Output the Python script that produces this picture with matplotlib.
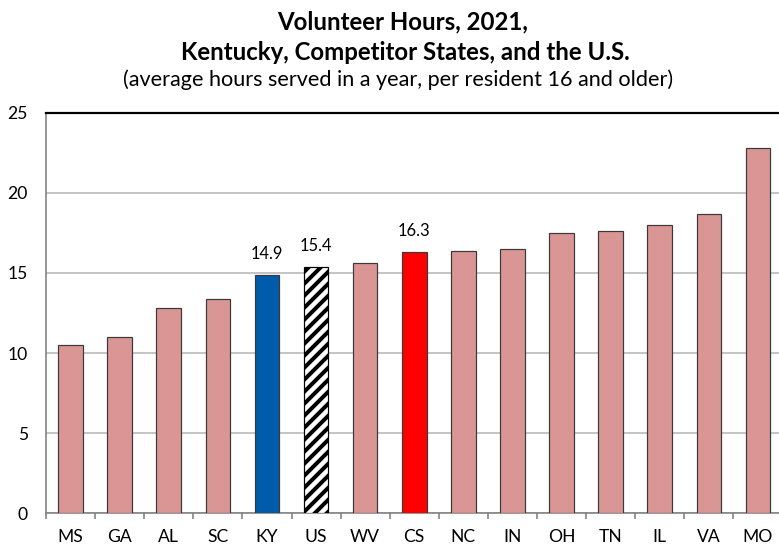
import matplotlib
matplotlib.use("Agg")
import matplotlib.pyplot as plt
import numpy as np

# values
states = ["MS", "GA", "AL", "SC", "KY", "US", "WV", "CS",
          "NC", "IN", "OH", "TN", "IL", "VA", "MO"]
hours = [10.5, 11.0, 12.8, 13.4, 14.9, 15.4, 15.6, 16.3,
         16.4, 16.5, 17.5, 17.6, 18.0, 18.7, 22.8]
labelled = ["KY", "US", "CS"]

# dpi 72 so that one point is one pixel (and the hatch spacing fits)
W, H, DPI = 779, 548, 72

plt.rcParams["font.family"] = ["Lato", "DejaVu Sans"]
plt.rcParams["hatch.linewidth"] = 4.0

fig = plt.figure(figsize=(W / DPI, H / DPI), dpi=DPI)
# right edge of the plot runs a little past the picture, as in the reference
ax = fig.add_axes([46 / W, 1 - 513.3 / H, 736.5 / W, 400.6 / H])

x = np.arange(len(states))
colors = []
for s in states:
    if s == "KY":
        colors.append("#005BAA")
    elif s == "CS":
        colors.append("#FF0000")
    elif s == "US":
        colors.append("white")
    else:
        colors.append("#D99694")

bars = ax.bar(x, hours, width=0.5, color=colors, edgecolor="#3a3a3a",
              linewidth=1.2, zorder=3)
us_bar = bars[states.index("US")]
us_bar.set_hatch("//")
us_bar.set_edgecolor("black")

for s in labelled:
    i = states.index(s)
    ax.text(i, hours[i] + 1.0, f"{hours[i]:.1f}", ha="center", va="baseline",
            fontsize=16.5, color="black")

ax.set_xlim(-0.5, len(states) - 0.5)
ax.set_ylim(0, 25)
ax.set_yticks([0, 5, 10, 15, 20, 25])
ax.set_xticks(x)
ax.set_xticklabels(states)
ax.set_xticks(np.arange(-0.5, len(states), 1), minor=True)

ax.yaxis.grid(True, color="#BFBFBF", linewidth=1.8, zorder=0)
ax.set_axisbelow(True)
ax.tick_params(axis="y", length=0, pad=18, labelsize=17.5)
ax.tick_params(axis="x", which="major", length=0, pad=16, labelsize=17.5)
ax.tick_params(axis="x", which="minor", length=6, color="#808080", width=1.6)

ax.spines["right"].set_visible(False)
ax.spines["top"].set_color("black")
ax.spines["top"].set_linewidth(2.2)
ax.spines["left"].set_color("#808080")
ax.spines["left"].set_linewidth(1.6)
ax.spines["bottom"].set_color("#808080")
ax.spines["bottom"].set_linewidth(1.6)

fig.text(403 / W, 1 - 29 / H, "Volunteer Hours, 2021,", ha="center",
         va="baseline", fontsize=24, fontweight="bold")
fig.text(405 / W, 1 - 60 / H, "Kentucky, Competitor States, and the U.S.",
         ha="center", va="baseline", fontsize=24, fontweight="bold")
fig.text(398 / W, 1 - 86 / H,
         "(average hours served in a year, per resident 16 and older)",
         ha="center", va="baseline", fontsize=21.6)

fig.savefig("out.png", dpi=DPI)
